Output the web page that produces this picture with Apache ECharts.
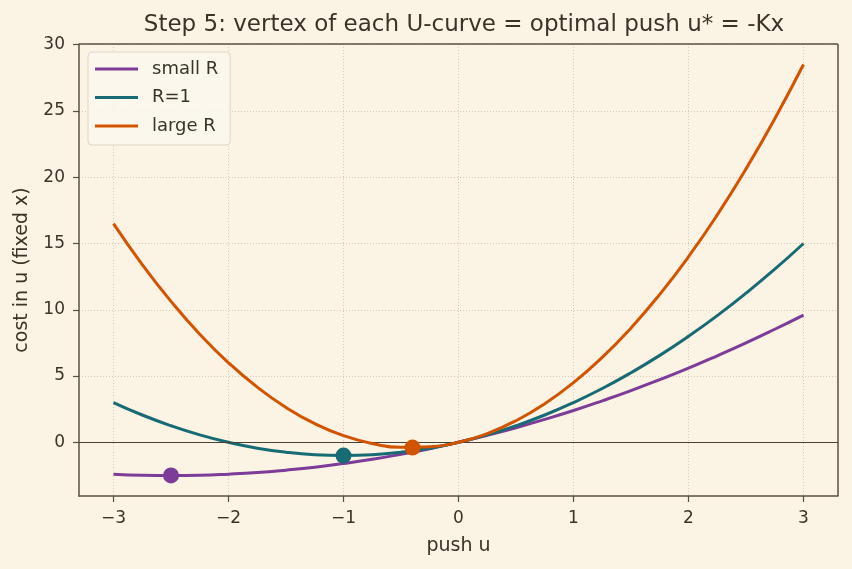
<!DOCTYPE html>
<html>
<head>
<meta charset="utf-8">
<script src="https://cdn.jsdelivr.net/npm/echarts@6/dist/echarts.min.js"></script>
<style>
  html, body { margin: 0; padding: 0; background: #FBF3E3; }
  #chart { width: 852px; height: 569px; }
</style>
</head>
<body>
<div id="chart"></div>
<script>
// push u sampled every 0.25
const uValues = [
  -3, -2.75, -2.5, -2.25, -2, -1.75, -1.5, -1.25, -1, -0.75, -0.5, -0.25,
  0, 0.25, 0.5, 0.75, 1, 1.25, 1.5, 1.75, 2, 2.25, 2.5, 2.75, 3,
];
const smallR = [
  -2.4, -2.48, -2.5, -2.48, -2.4, -2.28, -2.1, -1.88, -1.6, -1.28, -0.9, -0.48,
  0, 0.53, 1.1, 1.73, 2.4, 3.13, 3.9, 4.73, 5.6, 6.53, 7.5, 8.53, 9.6,
];
const rOne = [
  3, 2.06, 1.25, 0.56, 0, -0.44, -0.75, -0.94, -1, -0.94, -0.75, -0.44,
  0, 0.56, 1.25, 2.06, 3, 4.06, 5.25, 6.56, 8, 9.56, 11.25, 13.06, 15,
];
const largeR = [
  16.5, 13.41, 10.63, 8.16, 6, 4.16, 2.63, 1.41, 0.5, -0.09, -0.38, -0.34,
  0, 0.66, 1.63, 2.91, 4.5, 6.41, 8.63, 11.16, 14, 17.16, 20.63, 24.41, 28.5,
];
// vertices (optimal push u*, cost)
const vertices = [
  [-2.5, -2.5],
  [-1, -1],
  [-0.4, -0.4],
];
const seriesNames = ["small R", "R=1", "large R"];
const colors = ["#7D3C98", "#176B74", "#D35400"];
const xTicks = [-3, -2, -1, 0, 1, 2, 3];
const yTicks = [0, 5, 10, 15, 20, 25, 30];

const chart = echarts.init(document.getElementById("chart"));
const textColor = "#3B3328";
const axisColor = "#5A5044";
const font = "DejaVu Sans";

function pair(ys) {
  return uValues.map((u, i) => [u, ys[i]]);
}

const curves = [smallR, rOne, largeR].map((ys, i) => ({
  name: seriesNames[i],
  type: "line",
  data: pair(ys),
  smooth: true,
  showSymbol: false,
  lineStyle: { width: 3, color: colors[i] },
  itemStyle: { color: colors[i] },
  z: 3 + i,
}));

const dots = vertices.map((v, i) => ({
  name: seriesNames[i] + " vertex",
  type: "scatter",
  data: [v],
  symbolSize: 16,
  itemStyle: { color: colors[i], opacity: 1 },
  z: 10,
}));

chart.setOption({
  backgroundColor: "#FBF3E3",
  animation: false,
  title: {
    text: "Step 5: vertex of each U-curve = optimal push u* = -Kx",
    left: 459,
    textAlign: "center",
    top: 9,
    textStyle: { fontFamily: font, fontSize: 23, fontWeight: "normal", color: textColor },
  },
  grid: { left: 79, right: 14, top: 44, bottom: 73, show: false },
  legend: {
    data: seriesNames,
    orient: "vertical",
    left: 88,
    top: 52,
    itemWidth: 43,
    itemHeight: 3,
    itemGap: 8.5,
    padding: [7, 12, 9, 7],
    backgroundColor: "rgba(252,247,238,0.85)",
    borderColor: "#DDD6C9",
    borderWidth: 1,
    borderRadius: 4,
    icon: "rect",
    textStyle: { fontFamily: font, fontSize: 18, lineHeight: 20, color: textColor, padding: [0, 0, 0, 9] },
  },
  xAxis: {
    type: "value",
    min: -3.3,
    max: 3.3,
    name: "push u",
    nameLocation: "middle",
    nameGap: 41,
    nameTextStyle: { fontFamily: font, fontSize: 19, color: textColor },
    axisLine: { show: true, onZero: false, lineStyle: { color: axisColor, width: 1.5 } },
    axisTick: { show: true, length: 6, customValues: xTicks, lineStyle: { color: axisColor, width: 1.2 } },
    axisLabel: {
      customValues: xTicks,
      fontFamily: font,
      fontSize: 17,
      color: textColor,
      margin: 14,
      formatter: (v) => (v < 0 ? "\u2212" + Math.abs(v) : String(v)),
    },
    splitLine: { show: true, lineStyle: { color: "#C9BFAE", type: [1, 2], width: 0.8 } },
  },
  yAxis: {
    type: "value",
    min: -4.05,
    max: 30.05,
    name: "cost in u (fixed x)",
    nameLocation: "middle",
    nameGap: 47,
    nameTextStyle: { fontFamily: font, fontSize: 19, color: textColor },
    axisLine: { show: true, onZero: false, lineStyle: { color: axisColor, width: 1.5 } },
    axisTick: { show: true, length: 6, customValues: yTicks, lineStyle: { color: axisColor, width: 1.2 } },
    axisLabel: { customValues: yTicks, fontFamily: font, fontSize: 17, color: textColor, margin: 14 },
    splitLine: { show: true, lineStyle: { color: "#C9BFAE", type: [1, 2], width: 0.8 } },
  },
  series: [
    ...curves,
    ...dots,
    {
      name: "zero",
      type: "line",
      data: [],
      markLine: {
        silent: true,
        symbol: "none",
        label: { show: false },
        lineStyle: { color: "#4A4034", width: 1, type: "solid" },
        data: [{ yAxis: 0 }],
      },
      z: 2,
    },
    {
      // top and right frame
      name: "frame",
      type: "line",
      data: [],
      markLine: {
        silent: true,
        symbol: "none",
        label: { show: false },
        lineStyle: { color: axisColor, width: 1.5, type: "solid" },
        data: [{ yAxis: 30.05 }, { xAxis: 3.3 }],
      },
      z: 2,
    },
  ],
});
</script>
</body>
</html>
